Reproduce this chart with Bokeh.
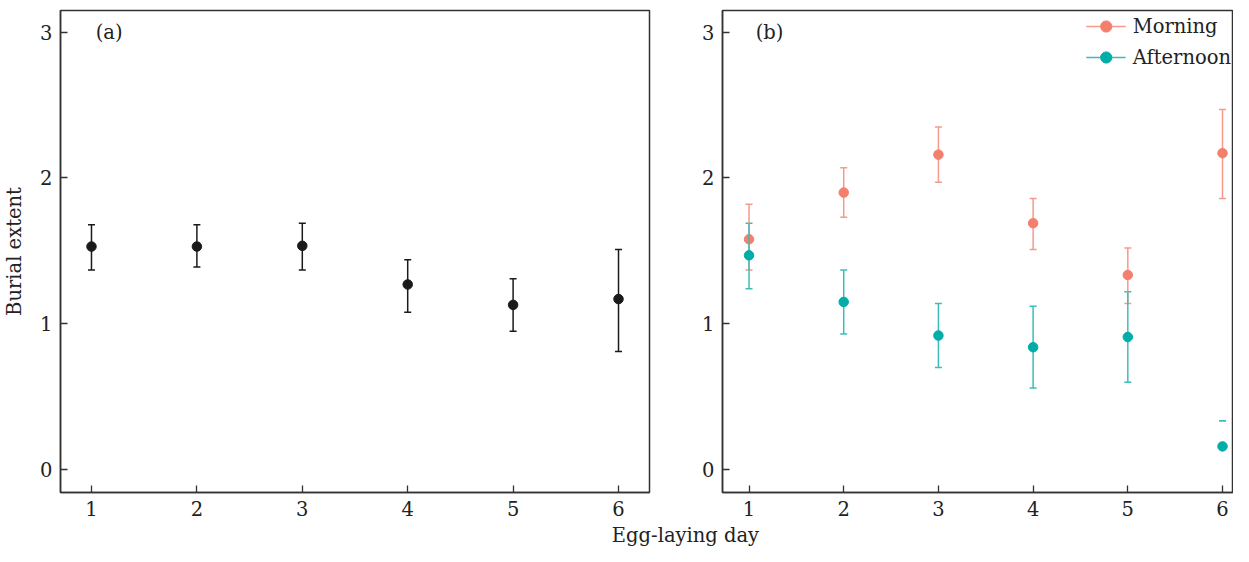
from bokeh.plotting import figure
from bokeh.models import (ColumnDataSource, Whisker, TeeHead, Range1d, FixedTicker,
                          Label, Legend, LegendItem)
from bokeh.layouts import row, column
from bokeh.embed import file_html
from bokeh.resources import INLINE

# ---------------- data ----------------
days = [1, 2, 3, 4, 5, 6]
y_ticks = [0, 1, 2, 3]

all_mean = [1.53, 1.53, 1.535, 1.27, 1.13, 1.17]
all_lower = [1.37, 1.39, 1.37, 1.08, 0.95, 0.81]
all_upper = [1.68, 1.68, 1.69, 1.44, 1.31, 1.51]

morning_mean = [1.58, 1.90, 2.16, 1.69, 1.335, 2.17]
morning_lower = [1.37, 1.73, 1.97, 1.51, 1.14, 1.86]
morning_upper = [1.82, 2.07, 2.35, 1.86, 1.52, 2.47]

afternoon_mean = [1.47, 1.15, 0.92, 0.84, 0.91, 0.16]
afternoon_lower = [1.24, 0.93, 0.70, 0.56, 0.60, 0.335]
afternoon_upper = [1.69, 1.37, 1.14, 1.12, 1.22, 0.335]

series_names = ["Morning", "Afternoon"]
panel_labels = ["(a)", "(b)"]
x_title = "Egg-laying day"
y_title = "Burial extent"

# ---------------- style ----------------
FONT = "DejaVu Serif"
FS = "19.5px"
AXIS_COLOR = "#333333"
TEXT_COLOR = "#222222"
MORNING_PT = "#F47F6D"
MORNING_BAR = "#F59A8C"
AFTER_PT = "#00ADA8"
AFTER_BAR = "#3DBDB8"

Y_RANGE = (-0.156, 3.148)


def style(p, show_y_label):
    p.toolbar_location = None
    p.outline_line_color = AXIS_COLOR
    p.outline_line_width = 1.5
    p.xgrid.visible = False
    p.ygrid.visible = False
    for ax in (p.xaxis[0], p.yaxis[0]):
        ax.axis_line_color = AXIS_COLOR
        ax.axis_line_width = 1.5
        ax.major_tick_line_color = AXIS_COLOR
        ax.major_tick_line_width = 1.3
        ax.major_tick_in = 7
        ax.major_tick_out = 0
        ax.minor_tick_line_color = None
        ax.major_label_text_font = FONT
        ax.major_label_text_font_size = FS
        ax.major_label_text_color = TEXT_COLOR
    p.xaxis[0].major_label_standoff = 8
    p.yaxis[0].major_label_standoff = 8
    p.xaxis[0].ticker = FixedTicker(ticks=days)
    p.yaxis[0].ticker = FixedTicker(ticks=y_ticks)
    if show_y_label:
        p.yaxis[0].axis_label = y_title
        p.yaxis[0].axis_label_text_font = FONT
        p.yaxis[0].axis_label_text_font_size = FS
        p.yaxis[0].axis_label_text_font_style = "normal"
        p.yaxis[0].axis_label_text_color = TEXT_COLOR
        p.yaxis[0].axis_label_standoff = 11


def add_errorbars(p, mean, lower, upper, bar_color, pt_color, cap=7):
    src = ColumnDataSource(dict(x=days, m=mean, lo=lower, hi=upper))
    seg = p.segment(x0="x", y0="lo", x1="x", y1="hi", source=src,
                    line_color=bar_color, line_width=1.5)
    for col in ("lo", "hi"):
        p.add_layout(Whisker(base="x", lower=col, upper=col, source=src,
                             line_color=None,
                             upper_head=TeeHead(size=cap, line_color=bar_color, line_width=1.5),
                             lower_head=None))
    pts = p.scatter(x="x", y="m", source=src, size=9.5, fill_color=pt_color,
                    line_color=pt_color)
    return seg, pts


common = dict(output_backend="svg", toolbar_location=None,
              y_range=Range1d(*Y_RANGE), min_border_top=10, min_border_bottom=30,
              background_fill_color="white", border_fill_color="white")

# ---------------- panel (a) ----------------
pa = figure(width=651, height=522, x_range=Range1d(0.706, 6.294),
            min_border_left=60, min_border_right=2, **common)
style(pa, True)
add_errorbars(pa, all_mean, all_lower, all_upper, "#1a1a1a", "#1a1a1a")
pa.add_layout(Label(x=1.04, y=3.0, text=panel_labels[0], text_font=FONT,
                    text_font_size=FS, text_baseline="middle", text_color=TEXT_COLOR))

# ---------------- panel (b) ----------------
pb = figure(width=582, height=522, x_range=Range1d(0.72, 6.116),
            min_border_left=71, min_border_right=0, **common)
style(pb, False)
m_seg, m_pts = add_errorbars(pb, morning_mean, morning_lower, morning_upper,
                             MORNING_BAR, MORNING_PT)
a_seg, a_pts = add_errorbars(pb, afternoon_mean, afternoon_lower, afternoon_upper,
                             AFTER_BAR, AFTER_PT)
pb.add_layout(Label(x=1.07, y=3.0, text=panel_labels[1], text_font=FONT,
                    text_font_size=FS, text_baseline="middle", text_color=TEXT_COLOR))

legend = Legend(items=[LegendItem(label=series_names[0], renderers=[m_seg, m_pts]),
                       LegendItem(label=series_names[1], renderers=[a_seg, a_pts])],
                location="top_right", border_line_color=None,
                background_fill_alpha=0, glyph_width=40, glyph_height=28,
                label_height=28, spacing=3, padding=13, margin=2,
                label_text_font=FONT, label_text_font_size=FS,
                label_standoff=7, label_text_color=TEXT_COLOR)
pb.add_layout(legend)

# ---------------- shared x label ----------------
pl = figure(width=1233, height=24, output_backend="svg", toolbar_location=None,
            x_range=Range1d(0, 1233), y_range=Range1d(0, 24),
            min_border=0, outline_line_color=None,
            background_fill_color="white", border_fill_color="white")
pl.xaxis.visible = False
pl.yaxis.visible = False
pl.xgrid.visible = False
pl.ygrid.visible = False
pl.add_layout(Label(x=685, y=0, text=x_title, text_font=FONT, text_font_size=FS,
                    text_align="center", text_baseline="bottom",
                    text_color=TEXT_COLOR))

layout = column(row(pa, pb), pl)
open("out.html", "w").write(file_html(layout, INLINE))
